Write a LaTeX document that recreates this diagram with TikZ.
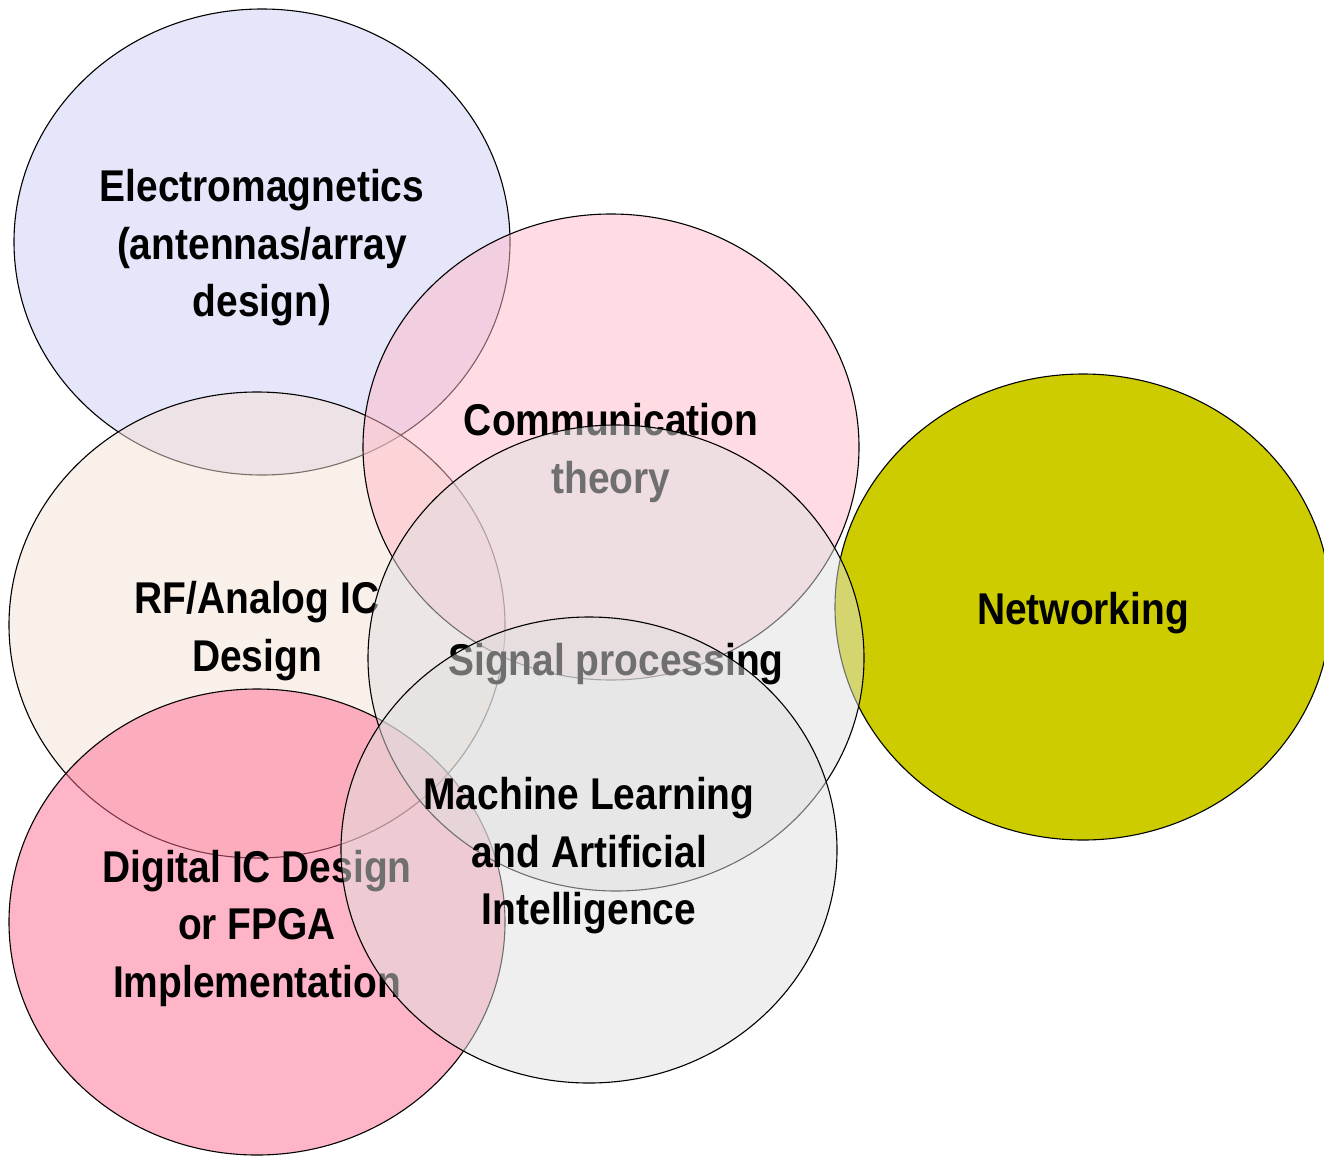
\documentclass[tikz,border=0pt]{standalone}
\usepackage{fontspec}
\setmainfont{Liberation Sans}[FakeStretch=0.875]
\usetikzlibrary{shapes.geometric}

% fill colours (used at half opacity)
\definecolor{emfill}{RGB}{205,205,245}
\definecolor{rffill}{RGB}{245,225,213}
\definecolor{comfill}{RGB}{255,185,199}
\definecolor{netfill}{RGB}{204,204,0}
\definecolor{digfill}{RGB}{255,107,145}
\definecolor{spfill}{RGB}{223,223,223}
\definecolor{mlfill}{RGB}{223,223,223}

\tikzset{
  area/.style={ellipse, draw=black, line width=1.1pt, fill=#1, fill opacity=0.5,
    inner sep=0pt, outer sep=0pt, minimum width=496pt, minimum height=466pt},
  solidarea/.style={area=#1, fill opacity=1},
  areatext/.style={text=black, align=center, inner sep=0pt,
    font=\fontsize{44.5}{57.5}\selectfont\bfseries}
}

\begin{document}
\begin{tikzpicture}[x=1pt,y=-1pt]
  \useasboundingbox (0,0) rectangle (1324,1156);

  % each field: its ellipse, then its label, so later fields veil earlier labels
  \node[area=emfill] (em) at (262,242) {};
  \node[areatext] (emt) at ([yshift=-6pt]em.center) {Electromagnetics\\(antennas/array\\design)};

  \node[area=rffill] (rf) at (257,625) {};
  \node[areatext] (rft) at ([yshift=-6pt]rf.center) {RF/Analog IC\\Design};

  \node[area=comfill] (com) at (611,447) {};
  \node[areatext] (comt) at ([yshift=-6pt]com.center) {Communication\\theory};

  \node[solidarea=netfill] (net) at (1083,607) {};
  \node[areatext] (nett) at ([yshift=-6pt]net.center) {Networking};

  \node[area=digfill] (dig) at (257,922) {};
  \node[areatext] (digt) at ([yshift=-6pt]dig.center) {Digital IC Design\\or FPGA\\Implementation};

  \node[area=spfill] (sp) at (616,658) {};
  \node[areatext] (spt) at ([yshift=-6pt]sp.center) {Signal processing};

  \node[area=mlfill] (ml) at (589,850) {};
  \node[areatext] (mlt) at ([yshift=-6pt]ml.center) {Machine Learning\\and Artificial\\Intelligence};
\end{tikzpicture}
\end{document}
